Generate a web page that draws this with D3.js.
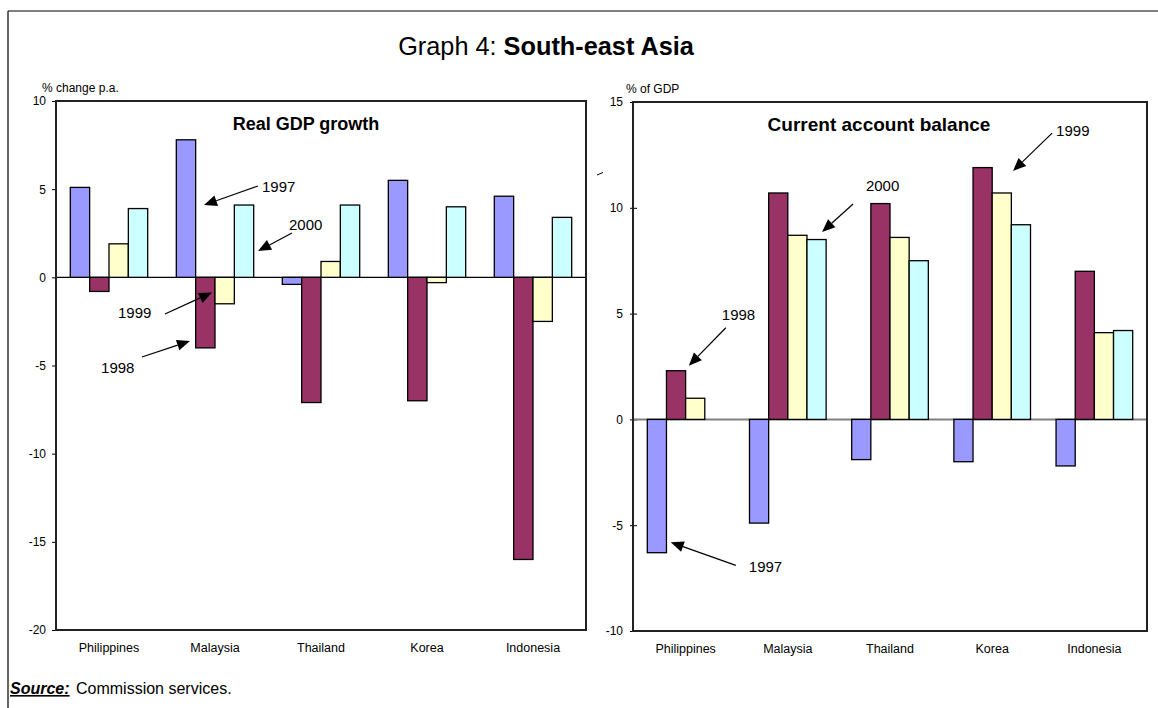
<!DOCTYPE html>
<html>
<head>
<meta charset="utf-8">
<script src="https://cdn.jsdelivr.net/npm/d3@7"></script>
<style>
  body { margin: 0; background: #fff; }
  svg { display: block; font-family: "Liberation Sans", Arial, sans-serif; }
</style>
</head>
<body>
<svg id="chart" width="1158" height="708"></svg>
<script>
// ---------------- DATA ----------------
const categories = ["Philippines", "Malaysia", "Thailand", "Korea", "Indonesia"];
const seriesNames = ["1997", "1998", "1999", "2000"];
const seriesColors = ["#9999FF", "#993366", "#FFFFCC", "#CCFFFF"];

// Real GDP growth (% change p.a.)
const gdp1997 = [5.1, 7.8, -0.4, 5.5, 4.6];
const gdp1998 = [-0.8, -4.0, -7.1, -7.0, -16.0];
const gdp1999 = [1.9, -1.5, 0.9, -0.3, -2.5];
const gdp2000 = [3.9, 4.1, 4.1, 4.0, 3.4];

// Current account balance (% of GDP)
const ca1997 = [-6.3, -4.9, -1.9, -2.0, -2.2];
const ca1998 = [2.3, 10.7, 10.2, 11.9, 7.0];
const ca1999 = [1.0, 8.7, 8.6, 10.7, 4.1];
const ca2000 = [null, 8.5, 7.5, 9.2, 4.2];

const gdpTicks = [10, 5, 0, -5, -10, -15, -20];
const caTicks = [15, 10, 5, 0, -5, -10];

// Annotations in data space: x in category units (0..5 across plot), y in value units
const gdpNotes = [
  {label: "1997", tx: 1.943, ty: 4.86, sx: 1.906, sy: 5.18, ex: 1.396, ey: 4.10},
  {label: "2000", tx: 2.198, ty: 2.68, sx: 2.226, sy: 2.51, ex: 1.906, ey: 1.49},
  {label: "1999", tx: 0.585, ty: -2.33, sx: 1.028, sy: -2.08, ex: 1.472, ey: -0.86},
  {label: "1998", tx: 0.425, ty: -5.45, sx: 0.811, sy: -4.52, ex: 1.264, ey: -3.61}
];
const caNotes = [
  {label: "2000", tx: 2.266, ty: 10.8, sx: 2.141, sy: 10.18, ex: 1.839, ey: 8.86},
  {label: "1999", tx: 4.116, ty: 13.41, sx: 4.077, sy: 13.53, ex: 3.697, ey: 11.74},
  {label: "1998", tx: 0.864, ty: 4.71, sx: 0.903, sy: 4.33, ex: 0.543, ey: 2.54},
  {label: "1997", tx: 1.127, ty: -7.23, sx: 1.0, sy: -6.90, ex: 0.367, ey: -5.81}
];

// ---------------- DRAW ----------------
const svg = d3.select("#chart");

// outer frame
svg.append("line").attr("x1", 8).attr("y1", 11).attr("x2", 8).attr("y2", 708)
  .attr("stroke", "#000").attr("stroke-width", 1.2);
svg.append("line").attr("x1", 8).attr("y1", 11).attr("x2", 1158).attr("y2", 11)
  .attr("stroke", "#000").attr("stroke-width", 1.2);

// main title
const title = svg.append("text").attr("x", 546).attr("y", 55)
  .attr("text-anchor", "middle").attr("font-size", 25.3).attr("fill", "#000");
title.append("tspan").text("Graph 4: ");
title.append("tspan").attr("font-weight", "bold").text("South-east Asia");

function drawPanel(opt) {
  const {left, right, top, bottom, domain, ticks, series, unitLabel, unitX, title, titleX, titleSize,
         zeroColor, zeroWidth, notes, padIn, padOut, catY, tickCross} = opt;
  const g = svg.append("g");
  const y = d3.scaleLinear().domain(domain).range([bottom, top]);
  const x0 = d3.scaleBand().domain(categories).range([left, right])
    .paddingInner(padIn).paddingOuter(padOut);
  const x1 = d3.scaleBand().domain(seriesNames).range([0, x0.bandwidth()]).padding(0);
  const xs = d3.scaleLinear().domain([0, 5]).range([left, right]);

  // y axis tick labels and marks
  const yAxis = d3.axisLeft(y).tickValues(ticks).tickFormat(d => String(d))
    .tickSizeOuter(0).tickSizeInner(0).tickPadding(10);
  const ax = g.append("g").attr("transform", `translate(${left},0)`).call(yAxis);
  ax.select(".domain").remove();
  ax.selectAll("text").attr("font-size", 12).attr("fill", "#000")
    .attr("font-family", '"Liberation Sans", Arial, sans-serif');
  ax.selectAll(".tick").append("line")
    .attr("x1", tickCross ? -3 : -4).attr("x2", tickCross ? 4 : 0)
    .attr("stroke", "#000").attr("stroke-width", 1);

  // zero line
  g.append("line").attr("x1", left).attr("x2", right)
    .attr("y1", y(0)).attr("y2", y(0))
    .attr("stroke", zeroColor).attr("stroke-width", zeroWidth);

  // bars
  const rows = [];
  categories.forEach((c, i) => {
    seriesNames.forEach((s, j) => {
      const v = series[j][i];
      if (v !== null && v !== undefined) rows.push({c, s, v, j});
    });
  });
  g.selectAll("rect.bar").data(rows).enter().append("rect")
    .attr("class", "bar")
    .attr("x", d => x0(d.c) + x1(d.s))
    .attr("y", d => y(Math.max(0, d.v)))
    .attr("width", x1.bandwidth())
    .attr("height", d => Math.abs(y(d.v) - y(0)))
    .attr("fill", d => seriesColors[d.j])
    .attr("stroke", "#000").attr("stroke-width", 1.3);

  // plot frame
  g.append("rect").attr("x", left).attr("y", top)
    .attr("width", right - left).attr("height", bottom - top)
    .attr("fill", "none").attr("stroke", "#222").attr("stroke-width", 2);

  // category labels
  const xAxis = d3.axisBottom(x0).tickSize(0).tickPadding(0);
  const xa = g.append("g").attr("transform", `translate(0,${catY})`).call(xAxis);
  xa.select(".domain").remove();
  xa.selectAll("text").attr("font-size", 12.5).attr("fill", "#000").attr("dy", 0)
    .attr("font-family", '"Liberation Sans", Arial, sans-serif');

  // unit label
  g.append("text").attr("x", unitX).attr("y", top - 9).attr("font-size", 12)
    .attr("fill", "#000").text(unitLabel);

  // panel title
  g.append("text").attr("x", titleX).attr("y", top + 29).attr("text-anchor", "middle")
    .attr("font-size", titleSize).attr("font-weight", "bold").attr("fill", "#000").text(title);

  // annotations
  notes.forEach(n => {
    const sx = xs(n.sx), sy = y(n.sy), ex = xs(n.ex), ey = y(n.ey);
    const ang = Math.atan2(ey - sy, ex - sx);
    const L = 13, W = 5.5;
    const bx = ex - L * Math.cos(ang), by = ey - L * Math.sin(ang);
    g.append("line").attr("x1", sx).attr("y1", sy).attr("x2", bx).attr("y2", by)
      .attr("stroke", "#000").attr("stroke-width", 1.2);
    const px = -Math.sin(ang), py = Math.cos(ang);
    g.append("polygon")
      .attr("points", [[ex, ey], [bx + W * px, by + W * py], [bx - W * px, by - W * py]]
        .map(p => p.join(",")).join(" "))
      .attr("fill", "#000");
    g.append("text").attr("x", xs(n.tx)).attr("y", y(n.ty)).attr("font-size", 15)
      .attr("fill", "#000").text(n.label);
  });
}

drawPanel({
  left: 56, right: 586, top: 101, bottom: 630,
  domain: [-20, 10], ticks: gdpTicks,
  series: [gdp1997, gdp1998, gdp1999, gdp2000],
  unitLabel: "% change p.a.", unitX: 42,
  title: "Real GDP growth", titleX: 306, titleSize: 18,
  zeroColor: "#000", zeroWidth: 1.2, notes: gdpNotes,
  padIn: 0.27, padOut: 0.135, catY: 652, tickCross: false
});

drawPanel({
  left: 633, right: 1147, top: 102, bottom: 631,
  domain: [-10, 15], ticks: caTicks,
  series: [ca1997, ca1998, ca1999, ca2000],
  unitLabel: "% of GDP", unitX: 626,
  title: "Current account balance", titleX: 879, titleSize: 19,
  zeroColor: "#808080", zeroWidth: 2, notes: caNotes,
  padIn: 0.25, padOut: 0.14, catY: 653, tickCross: true
});

// small stray mark between panels
svg.append("line").attr("x1", 597).attr("y1", 175).attr("x2", 603).attr("y2", 172.5)
  .attr("stroke", "#000").attr("stroke-width", 1);

// source note
const src = svg.append("text").attr("x", 10).attr("y", 694).attr("font-size", 16).attr("fill", "#000");
src.append("tspan").attr("font-weight", "bold").attr("font-style", "italic")
  .attr("text-decoration", "underline").text("Source:");
src.append("tspan").attr("x", 76).text("Commission services.");
</script>
</body>
</html>
